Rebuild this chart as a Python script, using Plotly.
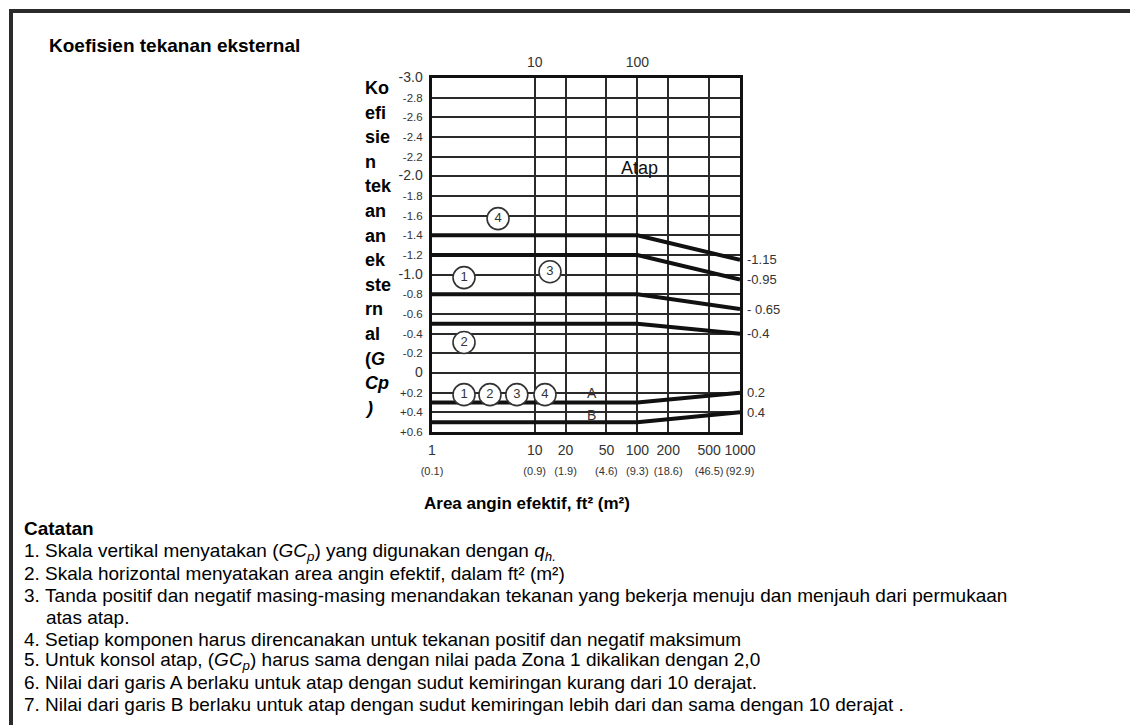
import plotly.graph_objects as go

# ---------------- data ----------------
area_ft2 = [1, 100, 1000]
gcp_zone4 = [-1.4, -1.4, -1.15]
gcp_zone3 = [-1.2, -1.2, -0.95]
gcp_zone1 = [-0.8, -0.8, -0.65]
gcp_zone2 = [-0.5, -0.5, -0.4]
gcp_lineA = [0.3, 0.3, 0.2]
gcp_lineB = [0.5, 0.5, 0.4]
series = [gcp_zone4, gcp_zone3, gcp_zone1, gcp_zone2, gcp_lineA, gcp_lineB]
end_labels = ["-1.15", "-0.95", "- 0.65", "-0.4", "0.2", "0.4"]

x_ticks_ft2 = [1, 10, 20, 50, 100, 200, 500, 1000]
x_ticks_m2 = ["(0.1)", "(0.9)", "(1.9)", "(4.6)", "(9.3)", "(18.6)", "(46.5)", "(92.9)"]
x_top_ticks = [10, 100]

y_ticks = [-3.0, -2.8, -2.6, -2.4, -2.2, -2.0, -1.8, -1.6, -1.4, -1.2, -1.0,
           -0.8, -0.6, -0.4, -0.2, 0.0, 0.2, 0.4, 0.6]
y_ticktext = ["-3.0", "-2.8", "-2.6", "-2.4", "-2.2", "-2.0", "-1.8", "-1.6", "-1.4",
              "-1.2", "-1.0", "-0.8", "-0.6", "-0.4", "-0.2", "0", "+0.2", "+0.4", "+0.6"]
y_major = ["-3.0", "-2.0", "-1.0", "0"]

circle_labels = ["4", "1", "3", "2", "1", "2", "3", "4"]
circle_x = [4.4, 2.05, 14.1, 2.05, 2.05, 3.67, 6.7, 12.6]
circle_y = [-1.57, -0.97, -1.03, -0.31, 0.22, 0.22, 0.22, 0.22]

letter_labels = ["A", "B"]
letter_x = [36, 36]
letter_y = [0.22, 0.44]

title_text = "Koefisien tekanan eksternal"
ytitle_chunks = ["Ko", "efi", "sie", "n", "tek", "an", "an", "ek", "ste", "rn", "al",
                 "(<i>G</i>", "<i>Cp</i>", "<i>)</i>"]
xtitle_text = "Area angin efektif, ft² (m²)"
notes_head = "Catatan"
notes_num = ["1.", "2.", "3.", "", "4.", "5.", "6.", "7."]
notes_txt = [
    "Skala vertikal menyatakan (<i>GC<sub>p</sub></i>) yang digunakan dengan <i>q<sub>h.</sub></i>",
    "Skala horizontal menyatakan area angin efektif, dalam ft² (m²)",
    "Tanda positif dan negatif masing-masing menandakan tekanan yang bekerja menuju dan menjauh dari permukaan",
    "atas atap.",
    "Setiap komponen harus direncanakan untuk tekanan positif dan negatif maksimum",
    "Untuk konsol atap, (<i>GC<sub>p</sub></i>) harus sama dengan nilai pada Zona 1 dikalikan dengan 2,0",
    "Nilai dari garis A berlaku untuk atap dengan sudut kemiringan kurang dari 10 derajat.",
    "Nilai dari garis B berlaku untuk atap dengan sudut kemiringan lebih dari dan sama dengan 10 derajat .",
]

# ---------------- layout geometry ----------------
W, H = 1130, 725
L, R, T, B = 432, 740, 78, 432


def px(x):
    return (x - L) / (R - L)


def py(y):
    return 1 - (y - T) / (B - T)


CHART_FONT = "Liberation Sans Narrow, Arial Narrow, Liberation Sans, Arial, sans-serif"
TEXT_FONT = "Liberation Sans, Arial, Helvetica, sans-serif"
INK = "#333333"

fig = go.Figure()

for ys in series:
    fig.add_trace(go.Scatter(x=area_ft2, y=ys, mode="lines",
                             line=dict(color="#111111", width=4),
                             hoverinfo="skip", showlegend=False))

fig.add_trace(go.Scatter(x=circle_x, y=circle_y, mode="markers+text",
                         text=circle_labels, textposition="middle center",
                         textfont=dict(family=TEXT_FONT, size=13, color=INK),
                         marker=dict(symbol="circle", size=22, color="white",
                                     line=dict(color=INK, width=1.6)),
                         hoverinfo="skip", showlegend=False))

fig.add_trace(go.Scatter(x=letter_x, y=letter_y, mode="text", text=letter_labels,
                         textposition="middle center",
                         textfont=dict(family=TEXT_FONT, size=14, color=INK),
                         hoverinfo="skip", showlegend=False))

# invisible traces to create the overlay axes
fig.add_trace(go.Scatter(x=[1, 1000], y=[0, 0], xaxis="x2", mode="lines",
                         line=dict(width=0), opacity=0, hoverinfo="skip", showlegend=False))
fig.add_trace(go.Scatter(x=[1, 1000], y=[0, 0], xaxis="x3", mode="lines",
                         line=dict(width=0), opacity=0, hoverinfo="skip", showlegend=False))

y_text_styled = [
    (f"<span style='font-size:14px'>{t}</span>" if t in y_major else t) for t in y_ticktext
]

fig.update_layout(
    width=W, height=H, autosize=False,
    margin=dict(l=L, r=W - R, t=T, b=H - B, pad=0),
    paper_bgcolor="white", plot_bgcolor="white",
    showlegend=False,
    xaxis=dict(type="log", range=[0, 3], tickmode="array", tickvals=x_ticks_ft2,
               ticktext=[str(v) for v in x_ticks_ft2], tickangle=0,
               showgrid=True, gridcolor="#2a2a2a", gridwidth=1.6,
               showline=True, linecolor="#111111", linewidth=3, mirror=True,
               ticks="", ticklabelstandoff=3,
               tickfont=dict(family=CHART_FONT, size=14, color=INK),
               zeroline=False, layer="above traces"),
    xaxis2=dict(type="log", range=[0, 3], overlaying="x", anchor="y", side="top",
                tickmode="array", tickvals=x_top_ticks,
                ticktext=[str(v) for v in x_top_ticks], tickangle=0,
                showgrid=False, showline=False, ticks="", ticklabelstandoff=7,
                tickfont=dict(family=CHART_FONT, size=14, color=INK)),
    xaxis3=dict(type="log", range=[0, 3], overlaying="x", anchor="y", side="bottom",
                tickmode="array", tickvals=x_ticks_ft2, ticktext=x_ticks_m2, tickangle=0,
                showgrid=False, showline=False, ticks="", ticklabelstandoff=31,
                tickfont=dict(family=CHART_FONT, size=11, color=INK)),
    yaxis=dict(range=[0.6, -3.0], tickmode="array", tickvals=y_ticks,
               ticktext=y_text_styled,
               showgrid=True, gridcolor="#2a2a2a", gridwidth=1.6,
               showline=True, linecolor="#111111", linewidth=3, mirror=True,
               ticks="", ticklabelstandoff=4, zeroline=False,
               tickfont=dict(family=CHART_FONT, size=11.5, color=INK),
               layer="above traces"),
)

ann = []
# "Atap"
ann.append(dict(x=2.025, y=-2.08, xref="x", yref="y", text="Atap", showarrow=False,
                font=dict(family=TEXT_FONT, size=18, color="#111111")))
# end-value labels
for ys, lab in zip(series, end_labels):
    ann.append(dict(x=3, y=ys[-1], xref="x", yref="y", text=lab, showarrow=False,
                    xanchor="left", xshift=5,
                    font=dict(family=CHART_FONT, size=13, color=INK)))
# title
ann.append(dict(x=px(47), y=py(46), xref="paper", yref="paper", text=f"<b>{title_text}</b>",
                showarrow=False, xanchor="left", yanchor="middle",
                font=dict(family=TEXT_FONT, size=19, color="#000000")))
# broken vertical y title
for i, chunk in enumerate(ytitle_chunks):
    ann.append(dict(x=px(363), y=py(88 + i * 24.6), xref="paper", yref="paper",
                    text=f"<b>{chunk}</b>", showarrow=False, xanchor="left", yanchor="middle",
                    font=dict(family=TEXT_FONT, size=18, color="#000000")))
# x title
ann.append(dict(x=px(527), y=py(503), xref="paper", yref="paper", text=f"<b>{xtitle_text}</b>",
                showarrow=False, xanchor="center", yanchor="middle",
                font=dict(family=TEXT_FONT, size=17, color="#000000")))
# notes
ann.append(dict(x=px(22), y=py(528), xref="paper", yref="paper", text=f"<b>{notes_head}</b>",
                showarrow=False, xanchor="left", yanchor="middle",
                font=dict(family=TEXT_FONT, size=19, color="#000000")))
for i, (n, t) in enumerate(zip(notes_num, notes_txt)):
    yy = 552 + i * 21.8
    if n:
        txt, x0 = f"{n}&nbsp;{t}", 22
    else:
        txt, x0 = t, 44
    ann.append(dict(x=px(x0), y=py(yy), xref="paper", yref="paper", text=txt,
                    showarrow=False, xanchor="left", yanchor="middle",
                    font=dict(family=TEXT_FONT, size=19, color="#000000")))
fig.update_layout(annotations=ann)

# outer frame (right and bottom edges fall outside the page)
fig.add_shape(type="rect", xref="paper", yref="paper",
              x0=px(11), y0=py(11), x1=px(1150), y1=py(760),
              line=dict(color="#2b2b2b", width=4), fillcolor="rgba(0,0,0,0)", layer="above")

fig.write_html("out.html", config={"displayModeBar": False},
               post_script="document.body.style.margin='0px';document.body.style.overflow='hidden';")
